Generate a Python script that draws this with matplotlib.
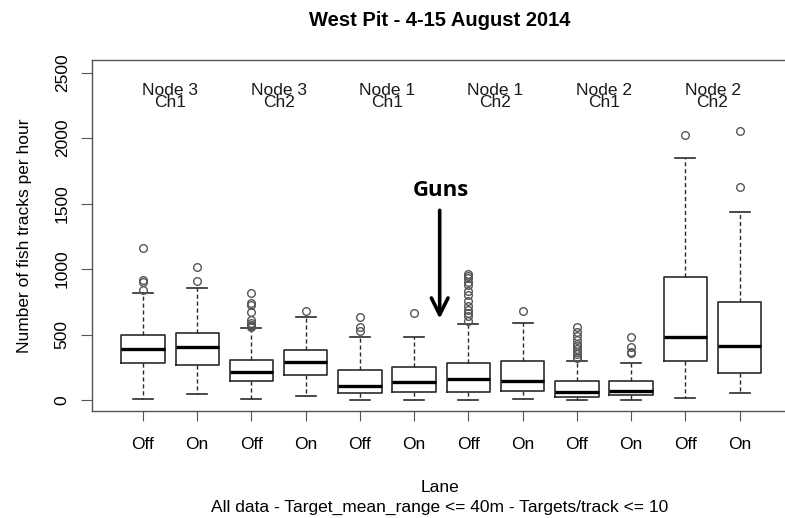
# coding=utf-8
"""Boxplots of fish tracks per hour per lane, West Pit, August 2014."""

import matplotlib
matplotlib.use("Agg")
import matplotlib.pyplot as plt

# Data
lanes = ["Off", "On"] * 6
nodes = ["Node 3", "Node 3", "Node 1", "Node 1", "Node 2", "Node 2"]
channels = ["Ch1", "Ch2", "Ch1", "Ch2", "Ch1", "Ch2"]

whisker_low = [8, 46, 8, 31, 0, 0, 0, 8, 0, 0, 18, 51]
quart_1 = [285, 267, 148, 188, 56, 61, 61, 69, 20, 41, 301, 204]
medians = [392, 403, 216, 293, 110, 135, 158, 148, 59, 69, 481, 412]
quart_3 = [499, 509, 306, 382, 227, 250, 285, 301, 143, 148, 940, 746]
whisker_high = [815, 856, 548, 632, 479, 479, 581, 591, 296, 280, 1846, 1436]
outliers = [
    [1159, 917, 900, 840],
    [1019, 907],
    [815, 740, 725, 670, 610, 590, 575, 565, 560],
    [682],
    [637, 560, 530],
    [662],
    [960, 945, 930, 900, 880, 830, 800, 760, 720, 690, 665, 640, 600],
    [680],
    [555, 520, 490, 460, 430, 410, 390, 370, 350, 330, 320],
    [479, 402, 370, 356],
    [2024],
    [2057, 1627],
]

title = "West Pit - 4-15 August 2014"
y_label = "Number of fish tracks per hour"
x_label = "Lane"
sub_label = "All data - Target_mean_range <= 40m - Targets/track <= 10"
y_ticks = [0, 500, 1000, 1500, 2000, 2500]

plt.rcParams["font.family"] = ["Liberation Sans", "DejaVu Sans"]

fig = plt.figure(figsize=(7.85, 5.18), dpi=100)
ax = fig.add_axes((92 / 785, 1 - 411 / 518, 1 - 92 / 785 + 0.003, (411 - 60) / 518))

stats = []
for i in range(len(lanes)):
    stats.append(dict(med=medians[i], q1=quart_1[i], q3=quart_3[i],
                      whislo=whisker_low[i], whishi=whisker_high[i],
                      fliers=outliers[i]))

positions = list(range(1, len(lanes) + 1))
line_col = "#2b2b2b"
ax.bxp(stats, positions=positions, widths=0.8, showcaps=True,
       boxprops=dict(color=line_col, linewidth=1.2),
       medianprops=dict(color="black", linewidth=2.4),
       whiskerprops=dict(color=line_col, linewidth=1.0, linestyle=(0, (3, 2))),
       capprops=dict(color=line_col, linewidth=1.2),
       capwidths=0.37,
       flierprops=dict(marker="o", markerfacecolor="none", markeredgecolor="#555555",
                       markersize=5.5, markeredgewidth=1.0))

ax.set_xlim(0.06, 12.88)
ax.set_ylim(-84, 2597)

ax.set_xticks(positions, labels=lanes)
ax.set_yticks(y_ticks, labels=[str(t) for t in y_ticks])
for lab in ax.get_yticklabels():
    lab.set_rotation(90)
    lab.set_va("center")
ax.tick_params(axis="x", length=7.5, width=0.8, color="#555555", pad=11, labelsize=12.5)
ax.tick_params(axis="y", length=8, width=0.8, color="#555555", pad=8, labelsize=12.5)

for side in ["left", "bottom", "top"]:
    ax.spines[side].set_color("#555555")
    ax.spines[side].set_linewidth(1.0)
ax.spines["right"].set_visible(False)

# node / channel headers above each pair
for k in range(len(nodes)):
    xc = 1.5 + 2 * k
    ax.text(xc, 2318, nodes[k] + "\n" + channels[k], ha="center", va="center",
            fontsize=12.5, color="#1a1a1a", linespacing=0.78)

# guns annotation
ax.annotate("", xy=(6.47, 600), xytext=(6.47, 1470),
            arrowprops=dict(arrowstyle="->", color="black", lw=2.6,
                            mutation_scale=30))
ax.text(6.5, 1604, "Guns", ha="center", va="center", fontsize=16,
        fontweight="bold", family=["Open Sans", "DejaVu Sans"])

fig.text(440 / 785, 1 - 20 / 518, title, ha="center", va="center",
         fontsize=14.5, fontweight="bold")
ax.set_ylabel(y_label, fontsize=12.5)
ax.yaxis.set_label_coords(-(92 - 32) / (785 - 92), 0.5)
fig.text(440 / 785, 1 - 487 / 518, x_label, ha="center", va="center", fontsize=12.5)
fig.text(440 / 785, 1 - 507 / 518, sub_label, ha="center", va="center", fontsize=12.5)

fig.savefig("out.png", dpi=100)
